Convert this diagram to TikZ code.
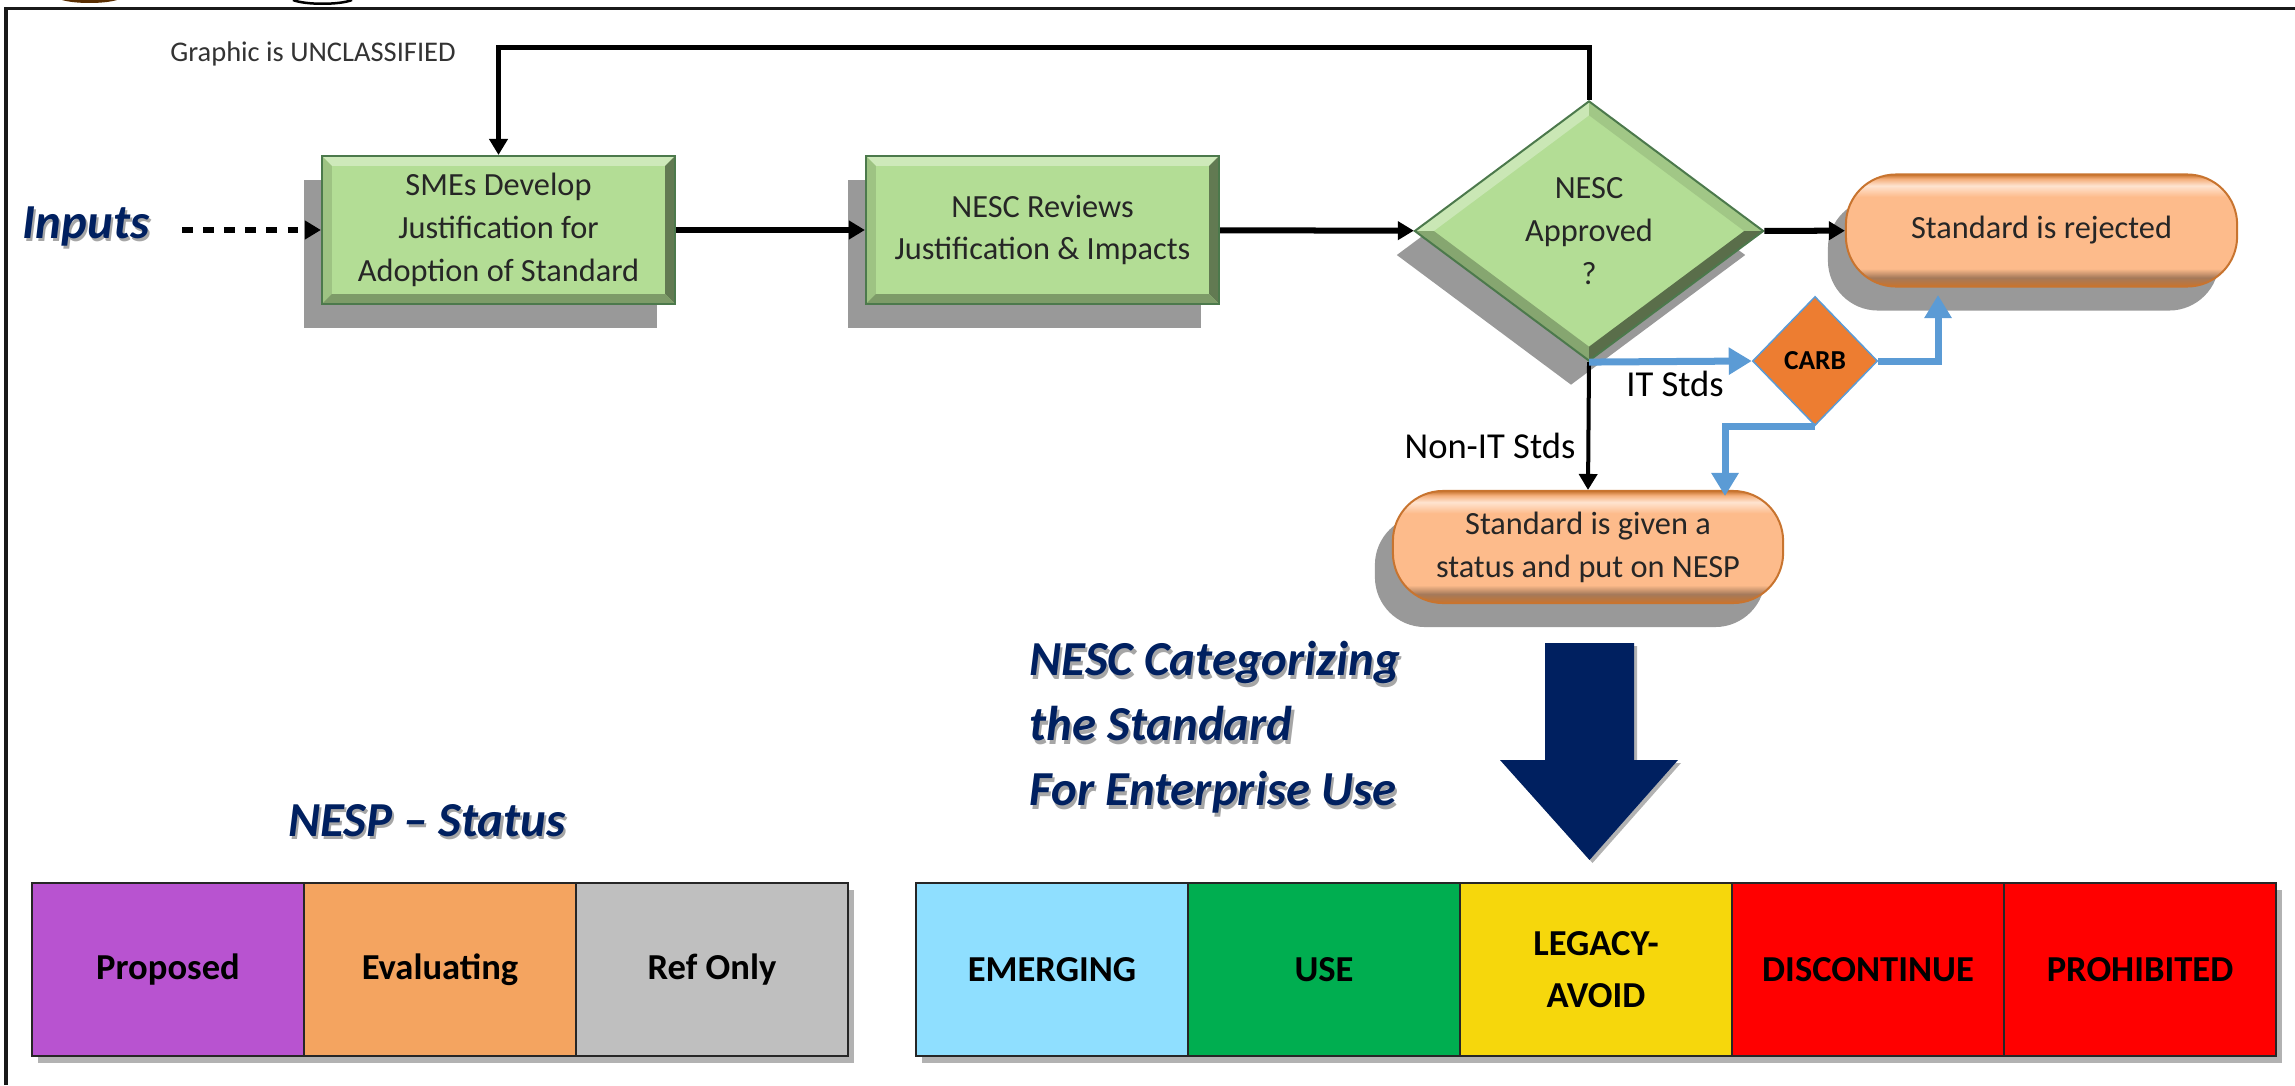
\documentclass[tikz,border=0pt]{standalone}
\usepackage{fontspec}
\setmainfont{Carlito}
\usetikzlibrary{arrows.meta,shapes.geometric,shadows}

\definecolor{boxgreen}{HTML}{B3DD95}
\definecolor{pillorange}{HTML}{FDBB8B}
\definecolor{pilledge}{HTML}{C8742F}
\definecolor{navyblue}{HTML}{002060}
\definecolor{lineblue}{HTML}{5B9BD5}
\definecolor{carborange}{HTML}{ED7D31}

% top edge -> highlight, bottom edge -> dark band
\pgfdeclareverticalshading{pillshade}{100bp}{
  color(0bp)=(pilledge); color(25bp)=(pilledge); color(29bp)=(pillorange!65!black); color(33bp)=(pillorange);
  color(65bp)=(pillorange); color(70bp)=(pillorange!40!white); color(73bp)=(pillorange!85!pilledge); color(75bp)=(pilledge); color(100bp)=(pilledge)}

\newcommand{\softtitle}[1]{\leavevmode\rlap{\kern.6pt\raisebox{-1pt}{\textcolor{black!35}{#1}}}#1}

\tikzset{
  x=0.01cm, y=-0.01cm,
  boxtext/.style={font=\fontsize{9.2}{12.2}\selectfont, text=black!85, align=center},
  darkshadow/.style={drop shadow={shadow xshift=-.18cm, shadow yshift=-.24cm, fill=black!40, opacity=1}},
  stdbox/.style={rectangle, boxtext, draw=green!25!black!70, line width=.02cm, fill=boxgreen, inner sep=0pt,
    minimum width=3.53cm, minimum height=1.48cm, darkshadow,
    path picture={
      \coordinate (nw) at (path picture bounding box.north west);
      \coordinate (ne) at (path picture bounding box.north east);
      \coordinate (sw) at (path picture bounding box.south west);
      \coordinate (se) at (path picture bounding box.south east);
      \fill[boxgreen!65!white] (nw) -- (ne) -- ([shift={(-10,10)}]ne) -- ([shift={(10,10)}]nw) -- cycle;
      \fill[boxgreen!88!black] (nw) -- (sw) -- ([shift={(10,-10)}]sw) -- ([shift={(10,10)}]nw) -- cycle;
      \fill[boxgreen!55!black] (ne) -- (se) -- ([shift={(-10,-10)}]se) -- ([shift={(-10,10)}]ne) -- cycle;
      \fill[boxgreen!70!black] (sw) -- (se) -- ([shift={(-10,-10)}]se) -- ([shift={(10,-10)}]sw) -- cycle;
    }},
  stddiamond/.style={diamond, boxtext, draw=green!25!black!70, line width=.02cm, fill=boxgreen, inner sep=0pt,
    aspect=1.35, minimum width=3.49cm, minimum height=2.6cm, darkshadow,
    path picture={
      \coordinate (dn) at (path picture bounding box.north);
      \coordinate (de) at (path picture bounding box.east);
      \coordinate (ds) at (path picture bounding box.south);
      \coordinate (dw) at (path picture bounding box.west);
      \fill[boxgreen!70!white] (dw) -- (dn) -- ([shift={(0,14)}]dn) -- ([shift={(19,0)}]dw) -- cycle;
      \fill[boxgreen!90!black] (dn) -- (de) -- ([shift={(-19,0)}]de) -- ([shift={(0,14)}]dn) -- cycle;
      \fill[boxgreen!75!black] (dw) -- (ds) -- ([shift={(0,-14)}]ds) -- ([shift={(19,0)}]dw) -- cycle;
      \fill[boxgreen!50!black] (ds) -- (de) -- ([shift={(-19,0)}]de) -- ([shift={(0,-14)}]ds) -- cycle;
    }},
  stdpill/.style={rectangle, boxtext, rounded corners=.5cm, draw=pilledge, line width=.02cm, shading=pillshade, inner sep=0pt,
    minimum height=1.12cm, darkshadow},
  cell/.style={rectangle, draw=black!85, line width=.015cm, inner sep=0pt, minimum width=2.72cm, minimum height=1.73cm,
    font=\fontsize{10.4}{14.8}\selectfont\bfseries, align=center,
    drop shadow={shadow xshift=.06cm, shadow yshift=-.07cm, fill=black!30, opacity=1}},
  heading/.style={font=\fontsize{13.9}{18.5}\selectfont\bfseries\itshape, text=navyblue, align=left, inner sep=0pt},
  blackline/.style={line width=.06cm, -{Triangle[length=.16cm,width=.18cm]}},
  blueline/.style={line width=.07cm, lineblue, -{Triangle[length=.23cm,width=.26cm]}},
  plainlabel/.style={font=\fontsize{10.4}{12}\selectfont}
}

\begin{document}
\begin{tikzpicture}
    \useasboundingbox (0,0) rectangle (2295,1085);

    % frame and the cut-off logos
    \draw[line width=.03cm, black!90] (6,1085) -- (6,9) -- (2295,9);
    \fill[black!50!orange!70!black] (62,0) .. controls (75,4) and (104,4) .. (117,0) -- cycle;
    \draw[line width=.025cm] (293,0) .. controls (305,5) and (340,5) .. (352,0);

    \node[font=\fontsize{8.1}{9}\selectfont, text=black!80] (graphic) at (313,54) {Graphic is UNCLASSIFIED};
    \node[heading] (inputs) at (86,228) {\softtitle{Inputs}};

    % flow
    \node[stdbox] (develop) at (498.5,230) {SMEs Develop\\Justification for\\Adoption of Standard};
    \node[stdbox] (reviews) at (1042.5,230) {NESC Reviews\\Justification \& Impacts};
    \node[stddiamond] (approved) at (1589,231) {NESC\\Approved\\?};
    \node[stdpill, minimum width=3.91cm] (rejected) at (2041.5,230.5) {Standard is rejected};
    \node[stdpill, minimum width=3.9cm] (given) at (1588,547) {Standard is given a\\status and put on NESP};
    \node[diamond, draw=lineblue, line width=.015cm, fill=carborange, aspect=.97, inner sep=0pt,
      minimum width=1.25cm, minimum height=1.29cm, font=\fontsize{7.8}{9}\selectfont\bfseries] (carb) at (1815,361) {CARB};

    \coordinate (inputstart) at (182,230);
    \coordinate (loopcorner) at (1589,48);
    \coordinate (rejectend) at (1938,295);
    \coordinate (givenend) at (1725,496);

    \draw[blackline, dashed] (inputstart) -- (develop);
    \draw[blackline] (develop) -- (reviews);
    \draw[blackline] (reviews) -- (approved);
    \draw[blackline] (approved) -- (rejected);
    \draw[blackline, line width=.05cm] (approved.north) -- (loopcorner) -| (develop.north);
    \draw[blackline, line width=.04cm] (approved.south) -- (given.north);
    \draw[blueline] (approved.south) -- (carb.west);
    \draw[blueline] (carb.east) -| (rejectend);
    \draw[blueline] (carb.south) -| (givenend);

    \node[plainlabel] (itstds) at (1675,384) {IT Stds};
    \node[plainlabel] (nonitstds) at (1490,446) {Non-IT Stds};

    % big arrow
    \fill[navyblue, drop shadow={shadow xshift=.03cm, shadow yshift=-.03cm, fill=black!30, opacity=1}]
      (1545,643) -- (1634,643) -- (1634,760) -- (1678,760) -- (1589.5,860) -- (1500,760) -- (1545,760) -- cycle;

    \node[heading, anchor=west] (categorizing) at (1029,729) {\softtitle{NESC Categorizing}\\\softtitle{the Standard}\\\softtitle{For Enterprise Use}};
    \node[heading] (statustitle) at (427,822) {\softtitle{NESP -- Status}};

    % status strip
    \node[cell, fill={rgb,255:red,184;green,83;blue,208}] (proposed) at (168,969.5) {Proposed};
    \node[cell, fill={rgb,255:red,244;green,164;blue,96}] (evaluating) at (440,969.5) {Evaluating};
    \node[cell, fill=black!25] (refonly) at (712,969.5) {Ref Only};

    % category strip
    \node[cell, fill={rgb,255:red,143;green,223;blue,255}] (emerging) at (1052,969.5) {EMERGING};
    \node[cell, fill={rgb,255:red,0;green,174;blue,80}] (use) at (1324,969.5) {USE};
    \node[cell, fill={rgb,255:red,246;green,215;blue,12}] (legacy) at (1596,969.5) {LEGACY-\\AVOID};
    \node[cell, fill=red] (discontinue) at (1868,969.5) {DISCONTINUE};
    \node[cell, fill=red] (prohibited) at (2140,969.5) {PROHIBITED};
\end{tikzpicture}
\end{document}
